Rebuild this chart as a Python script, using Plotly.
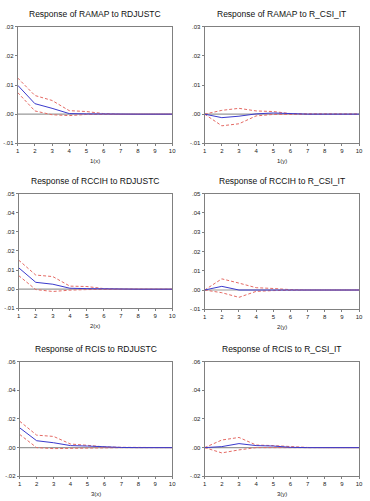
import plotly.graph_objects as go

periods = [1, 2, 3, 4, 5, 6, 7, 8, 9, 10]

titles = ["Response of RAMAP to RDJUSTC", "Response of RAMAP to R_CSI_IT",
          "Response of RCCIH to RDJUSTC", "Response of RCCIH to R_CSI_IT",
          "Response of RCIS to RDJUSTC", "Response of RCIS to R_CSI_IT"]
xlabels = ["1(x)", "1(y)", "2(x)", "2(y)", "3(x)", "3(y)"]

resp_1x = [0.0099, 0.0036, 0.0020, 0.0002, 0.0001, 0.0, 0.0, 0.0, 0.0, 0.0]
up_1x = [0.0124, 0.0064, 0.0047, 0.0012, 0.0009, 0.0002, 0.0, 0.0, 0.0, 0.0]
lo_1x = [0.0074, 0.0011, -0.0002, -0.0005, -0.0001, 0.0, 0.0, 0.0, 0.0, 0.0]

resp_1y = [0.0, -0.0012, -0.0007, 0.0001, 0.0004, 0.0001, 0.0, 0.0, 0.0, 0.0]
up_1y = [0.0, 0.0013, 0.0020, 0.0011, 0.0009, 0.0002, 0.0001, 0.0, 0.0, 0.0]
lo_1y = [0.0, -0.0040, -0.0033, -0.0006, -0.0001, 0.0, 0.0, 0.0, 0.0, 0.0]

resp_2x = [0.0112, 0.0036, 0.0026, 0.0005, 0.0003, 0.0001, 0.0, 0.0, 0.0, 0.0]
up_2x = [0.0152, 0.0074, 0.0066, 0.0016, 0.0014, 0.0003, 0.0001, 0.0, 0.0, 0.0]
lo_2x = [0.0071, -0.0002, -0.0012, -0.0005, -0.0002, 0.0, 0.0, 0.0, 0.0, 0.0]

resp_2y = [0.0, 0.0019, 0.0, 0.0, 0.0, 0.0, 0.0, 0.0, 0.0, 0.0]
up_2y = [0.0, 0.0058, 0.0036, 0.0012, 0.0008, 0.0002, 0.0, 0.0, 0.0, 0.0]
lo_2y = [0.0, -0.0014, -0.0038, -0.0007, -0.0003, 0.0, 0.0, 0.0, 0.0, 0.0]

resp_3x = [0.0138, 0.0048, 0.0034, 0.0014, 0.0011, 0.0004, 0.0001, 0.0, 0.0, 0.0]
up_3x = [0.0184, 0.0087, 0.0078, 0.0025, 0.0016, 0.0005, 0.0002, 0.0, 0.0, 0.0]
lo_3x = [0.0092, 0.0, -0.0007, -0.0005, 0.0, 0.0, 0.0, 0.0, 0.0, 0.0]

resp_3y = [0.0, 0.0007, 0.0028, 0.0014, 0.0011, 0.0002, 0.0, 0.0, 0.0, 0.0]
up_3y = [0.0, 0.0053, 0.0071, 0.0018, 0.0014, 0.0005, 0.0001, 0.0, 0.0, 0.0]
lo_3y = [0.0, -0.0037, -0.0016, 0.0, 0.0, 0.0, 0.0, 0.0, 0.0, 0.0]

responses = [resp_1x, resp_1y, resp_2x, resp_2y, resp_3x, resp_3y]
uppers = [up_1x, up_1y, up_2x, up_2y, up_3x, up_3y]
lowers = [lo_1x, lo_1y, lo_2x, lo_2y, lo_3x, lo_3y]

ytick_vals_row1 = [-0.01, 0.0, 0.01, 0.02, 0.03]
ytick_text_row1 = ["-.01", ".00", ".01", ".02", ".03"]
ytick_vals_row2 = [-0.01, 0.0, 0.01, 0.02, 0.03, 0.04, 0.05]
ytick_text_row2 = ["-.01", ".00", ".01", ".02", ".03", ".04", ".05"]
ytick_vals_row3 = [-0.02, 0.0, 0.02, 0.04, 0.06]
ytick_text_row3 = ["-.02", ".00", ".02", ".04", ".06"]
yticks = [(ytick_vals_row1, ytick_text_row1), (ytick_vals_row2, ytick_text_row2),
          (ytick_vals_row3, ytick_text_row3)]

W, H = 370, 501
# pixel boxes (left, right, top, bottom)
boxes = [(16, 173, 24, 142), (206, 363, 24, 142),
         (17, 173, 193, 309), (206, 363, 193, 310),
         (18, 173, 363, 479), (206, 363, 363, 479)]

fig = go.Figure()
font = "Liberation Sans, Arial, sans-serif"
annotations = []
for i in range(6):
    xa = "x" if i == 0 else f"x{i+1}"
    ya = "y" if i == 0 else f"y{i+1}"
    row = i // 2
    vals, texts = yticks[row]
    l, r, t, b = boxes[i]
    fig.add_trace(go.Scatter(x=periods, y=[0.0] * len(periods), mode="lines",
                             line=dict(color="#999999", width=1.2),
                             xaxis=xa, yaxis=ya, showlegend=False, hoverinfo="skip"))
    fig.add_trace(go.Scatter(x=periods, y=uppers[i], mode="lines",
                             line=dict(color="#e46a64", width=1, dash="3px,2px"),
                             xaxis=xa, yaxis=ya, showlegend=False))
    fig.add_trace(go.Scatter(x=periods, y=lowers[i], mode="lines",
                             line=dict(color="#e46a64", width=1, dash="3px,2px"),
                             xaxis=xa, yaxis=ya, showlegend=False))
    fig.add_trace(go.Scatter(x=periods, y=responses[i], mode="lines",
                             line=dict(color="#3a3acc", width=1),
                             xaxis=xa, yaxis=ya, showlegend=False))
    axcommon = dict(showgrid=False, zeroline=False, showline=True, mirror=True,
                    linecolor="#808080", linewidth=1, ticks="outside", ticklen=2,
                    tickcolor="#808080", tickfont=dict(family=font, size=6, color="#222"))
    fig.update_layout(**{
        ("xaxis" if i == 0 else f"xaxis{i+1}"): dict(
            domain=[l / W, r / W], anchor=ya, range=[1, 10],
            tickvals=periods, ticktext=[str(p) for p in periods], **axcommon),
        ("yaxis" if i == 0 else f"yaxis{i+1}"): dict(
            domain=[1 - b / H, 1 - t / H], anchor=xa, range=[vals[0], vals[-1]],
            tickvals=vals, ticktext=texts, **axcommon),
    })
    cx = (l + r) / 2 / W
    annotations.append(dict(text=titles[i], x=cx, y=1 - (t - 13) / H, xref="paper",
                            yref="paper", showarrow=False, xanchor="center", yanchor="middle",
                            font=dict(family=font, size=8.5, color="#111")))
    annotations.append(dict(text=xlabels[i], x=cx, y=1 - (b + 18) / H, xref="paper",
                            yref="paper", showarrow=False, xanchor="center", yanchor="middle",
                            font=dict(family=font, size=6, color="#222")))

fig.update_layout(width=W, height=H, margin=dict(l=0, r=0, t=0, b=0),
                  paper_bgcolor="white", plot_bgcolor="white",
                  annotations=annotations)
fig.write_html("out.html")
